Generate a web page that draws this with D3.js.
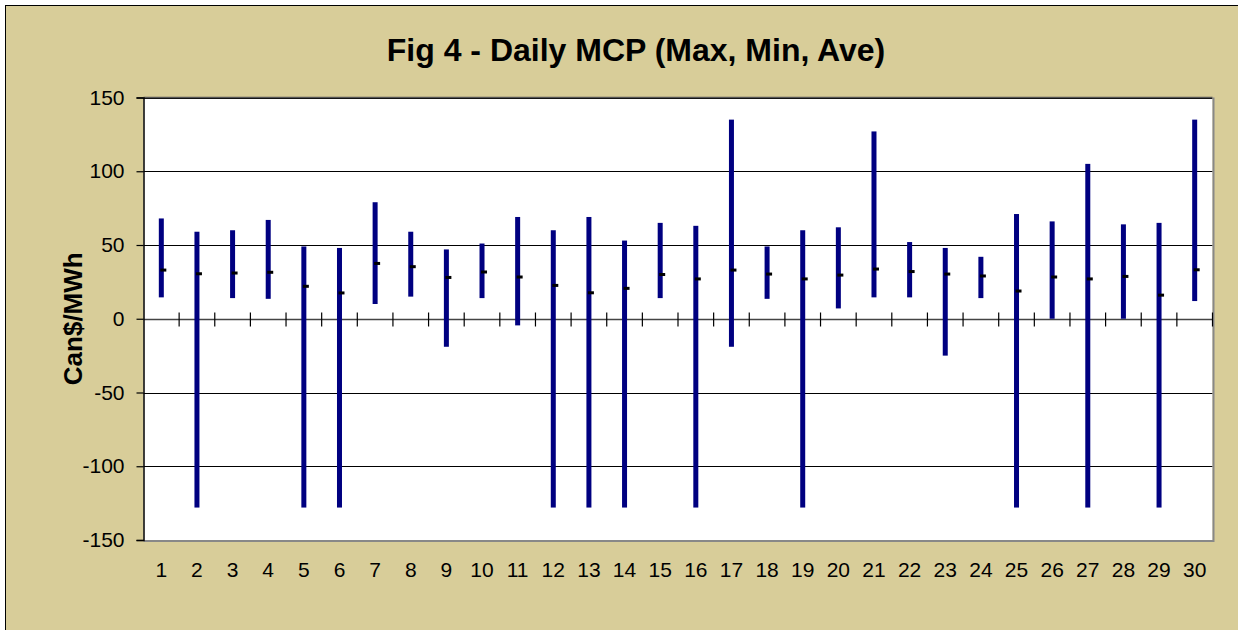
<!DOCTYPE html>
<meta charset="utf-8">
<style>
  body { margin: 0; background: #fff; }
  text { font-family: "Liberation Sans", Arial, sans-serif; fill: #000; }
</style>
<body>
<svg width="1238" height="630"></svg>
<script src="https://d3js.org/d3.v7.min.js"></script>
<script>

// daily market clearing price, Can$/MWh
var days = d3.range(1, 31);
var maxV = [68, 59, 60, 67, 49, 48, 79, 59, 47, 51, 69, 60, 69, 53, 65, 63, 135, 49, 60, 62, 127, 52, 48, 42, 71, 66, 105, 64, 65, 135];
var minV = [14.5, -128, 14, 13.5, -128, -128, 10, 15, -19, 14, -4.5, -128, -128, -128, 14, -128, -19, 13.5, -128, 7, 14.5, 14.5, -25, 14, -128, 0, -128, 0, -128, 12];
var aveV = [33, 30.5, 31, 31.5, 22, 17.5, 37.5, 35.3, 28, 31.7, 28.3, 22.6, 17.6, 20.6, 30, 27, 33, 30.3, 27, 29.6, 33.7, 32, 30.3, 29, 18.8, 28.3, 27, 28.7, 16, 33.2];
var yTicks = [-150, -100, -50, 0, 50, 100, 150];

var svg = d3.select('svg');

// beige chart background with a frame
svg.append('rect')
  .attr('x', 0).attr('y', 0)
  .attr('width', 1238).attr('height', 630)
  .attr('fill', '#fff');
svg.append('rect')
  .attr('x', 5.5).attr('y', 5.5)
  .attr('width', 1250).attr('height', 640)
  .attr('fill', '#d8cd99')
  .attr('stroke', '#000')
  .attr('stroke-width', 1);

// plot area edges ("top" is a reserved window prop, so prefixed names)
var pL = 143.5, pR = 1212.5, pT = 97.5, pB = 540;

var x = d3.scaleBand().domain(days).range([pL, pR]).padding(0);
var y = d3.scaleLinear().domain([-150, 150]).range([pB, pT]);

// plot area
svg.append('rect')
  .attr('x', pL).attr('y', pT)
  .attr('width', pR - pL).attr('height', pB - pT)
  .attr('fill', '#fff');

// gridlines
svg.append('g').selectAll('line')
  .data(yTicks.filter(function(d) { return d != -150; }))
  .join('line')
  .attr('x1', pL).attr('x2', pR)
  .attr('y1', function(d) { return Math.round(y(d)) + 0.5; })
  .attr('y2', function(d) { return Math.round(y(d)) + 0.5; })
  .attr('stroke', function(d) { return d == 0 ? '#444' : '#000'; })
  .attr('stroke-width', function(d) { return d == 0 ? 1.5 : 1; });

// right and bottom border, grey
svg.append('path')
  .attr('d', 'M' + (pR + 1) + ',' + pT + 'V' + (pB + 1) + 'H' + pL)
  .attr('fill', 'none')
  .attr('stroke', '#888')
  .attr('stroke-width', 2);
svg.append('line')
  .attr('x1', pL).attr('x2', pR)
  .attr('y1', pT).attr('y2', pT)
  .attr('stroke', '#555').attr('stroke-width', 1.5);

// y axis (plain hyphen for negatives, like the original)
var yAxis = svg.append('g')
  .attr('transform', 'translate(' + pL + ',0)')
  .call(d3.axisLeft(y).tickValues(yTicks).tickFormat(String).tickSize(7).tickPadding(12));
yAxis.select('.domain').attr('stroke', '#000').attr('stroke-width', 1.5);
yAxis.selectAll('.tick line').attr('stroke', '#000').attr('stroke-width', 1.2);
yAxis.selectAll('.tick text')
  .attr('font-size', 21)
  .attr('font-family', '"Liberation Sans", Arial, sans-serif')
  .attr('fill', '#000');

// category ticks crossing the zero line
var y0 = Math.round(y(0)) + 0.5;
svg.append('g').selectAll('line')
  .data(days)
  .join('line')
  .attr('x1', function(d) { return x(d) + x.bandwidth(); })
  .attr('x2', function(d) { return x(d) + x.bandwidth(); })
  .attr('y1', y0 - 7).attr('y2', y0 + 7)
  .attr('stroke', '#000').attr('stroke-width', 1.2);

// x labels
svg.append('g').selectAll('text')
  .data(days)
  .join('text')
  .attr('x', function(d) { return x(d) + x.bandwidth() / 2; })
  .attr('y', 577)
  .attr('text-anchor', 'middle')
  .attr('font-size', 21)
  .text(function(d) { return d; });

// high-low bars
svg.append('g').selectAll('rect')
  .data(days)
  .join('rect')
  .attr('x', function(d) { return x(d) + x.bandwidth() / 2 - 2.5; })
  .attr('y', function(d, i) { return y(maxV[i]); })
  .attr('width', 5)
  .attr('height', function(d, i) { return y(minV[i]) - y(maxV[i]); })
  .attr('fill', '#000080');

// average markers
svg.append('g').selectAll('rect')
  .data(days)
  .join('rect')
  .attr('x', function(d) { return x(d) + x.bandwidth() / 2 - 1; })
  .attr('y', function(d, i) { return y(aveV[i]) - 1.5; })
  .attr('width', 6)
  .attr('height', 3)
  .attr('fill', '#000');

// title
svg.append('text')
  .attr('x', 636)
  .attr('y', 61)
  .attr('text-anchor', 'middle')
  .attr('font-size', 32)
  .attr('font-weight', 'bold')
  .text('Fig 4 - Daily MCP (Max, Min, Ave)');

// y axis title
svg.append('text')
  .attr('transform', 'translate(82,' + y(0) + ') rotate(-90)')
  .attr('text-anchor', 'middle')
  .attr('font-size', 26)
  .attr('font-weight', 'bold')
  .text('Can$/MWh');

</script>
